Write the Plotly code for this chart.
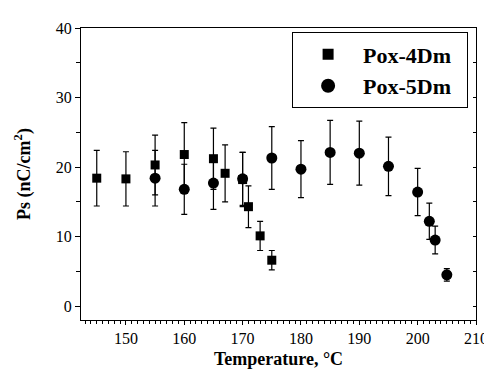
import plotly.graph_objects as go

# Pox-4Dm (squares)
t4 = [145, 150, 155, 160, 165, 167, 170, 171, 173, 175]
ps4 = [18.4, 18.3, 20.3, 21.8, 21.2, 19.1, 18.2, 14.3, 10.1, 6.6]
err4 = [4.0, 3.9, 4.3, 4.6, 4.4, 4.1, 3.9, 3.0, 2.1, 1.4]

# Pox-5Dm (circles)
t5 = [155, 160, 165, 170, 175, 180, 185, 190, 195, 200, 202, 203, 205]
ps5 = [18.4, 16.8, 17.7, 18.3, 21.3, 19.7, 22.1, 22.0, 20.1, 16.4, 12.2, 9.5, 4.5]
err5 = [4.0, 3.6, 3.8, 3.8, 4.5, 4.1, 4.6, 4.6, 4.2, 3.4, 2.6, 2.0, 0.9]

FONT = "Liberation Serif"

fig = go.Figure()

fig.add_trace(go.Scatter(
    x=t4, y=ps4, mode="markers", name="Pox-4Dm", showlegend=False,
    marker=dict(symbol="square", size=9, color="black"),
    error_y=dict(type="data", array=err4, visible=True, color="black", thickness=1.2, width=3),
))
fig.add_trace(go.Scatter(
    x=t5, y=ps5, mode="markers", name="Pox-5Dm", showlegend=False,
    marker=dict(symbol="circle", size=11, color="black"),
    error_y=dict(type="data", array=err5, visible=True, color="black", thickness=1.2, width=3),
))
# legend entries
fig.add_trace(go.Scatter(x=[None], y=[None], mode="markers", name="<b>Pox-4Dm</b>&nbsp;&nbsp;",
                         marker=dict(symbol="square", size=11, color="black")))
fig.add_trace(go.Scatter(x=[None], y=[None], mode="markers", name="<b>Pox-5Dm</b>&nbsp;&nbsp;",
                         marker=dict(symbol="circle", size=14, color="black")))
# dummy for right axis
fig.add_trace(go.Scatter(x=[None], y=[None], yaxis="y2", showlegend=False, hoverinfo="skip"))

fig.update_layout(
    width=492, height=370,
    margin=dict(l=73, r=13, t=20, b=56),
    paper_bgcolor="white", plot_bgcolor="white",
    font=dict(family=FONT, color="black", size=15),
    xaxis=dict(
        range=[142.3, 210], tickvals=[150, 160, 170, 180, 190, 200, 210],
        ticks="outside", ticklen=4, tickwidth=1, tickcolor="black",
        minor=dict(dtick=1, tick0=0, ticks="outside", ticklen=2.5, tickcolor="black"),
        showline=True, linecolor="black", linewidth=1.2, mirror=True,
        showgrid=False, zeroline=False,
        tickfont=dict(family=FONT, size=16),
        title=dict(text="<b>Temperature, °C</b>", font=dict(family=FONT, size=18), standoff=6),
    ),
    yaxis=dict(
        range=[-2, 40], tickvals=[0, 10, 20, 30, 40],
        ticks="outside", ticklen=5, tickwidth=1, tickcolor="black",
        minor=dict(tickvals=[5, 15, 25, 35], ticks="outside", ticklen=4, tickcolor="black"),
        showline=True, linecolor="black", linewidth=1.2, mirror=True,
        showgrid=False, zeroline=False,
        tickfont=dict(family=FONT, size=16),
        title=dict(text="<b>Ps (nC/cm<sup>2</sup>)</b>", font=dict(family=FONT, size=18), standoff=20),
    ),
    yaxis2=dict(
        overlaying="y", side="right", range=[-2, 40],
        tickvals=[0, 5, 10, 15, 20, 25, 30, 35], ticks="inside", ticklen=3,
        tickcolor="black", showticklabels=False, showgrid=False, zeroline=False,
        showline=False,
    ),
    legend=dict(
        x=0.98, y=0.985, xanchor="right", yanchor="top",
        bordercolor="black", borderwidth=1, bgcolor="white",
        font=dict(family=FONT, size=22, color="black"),
        itemwidth=60,
        tracegroupgap=0,
    ),
    showlegend=True,
)

fig.write_html("out.html")
